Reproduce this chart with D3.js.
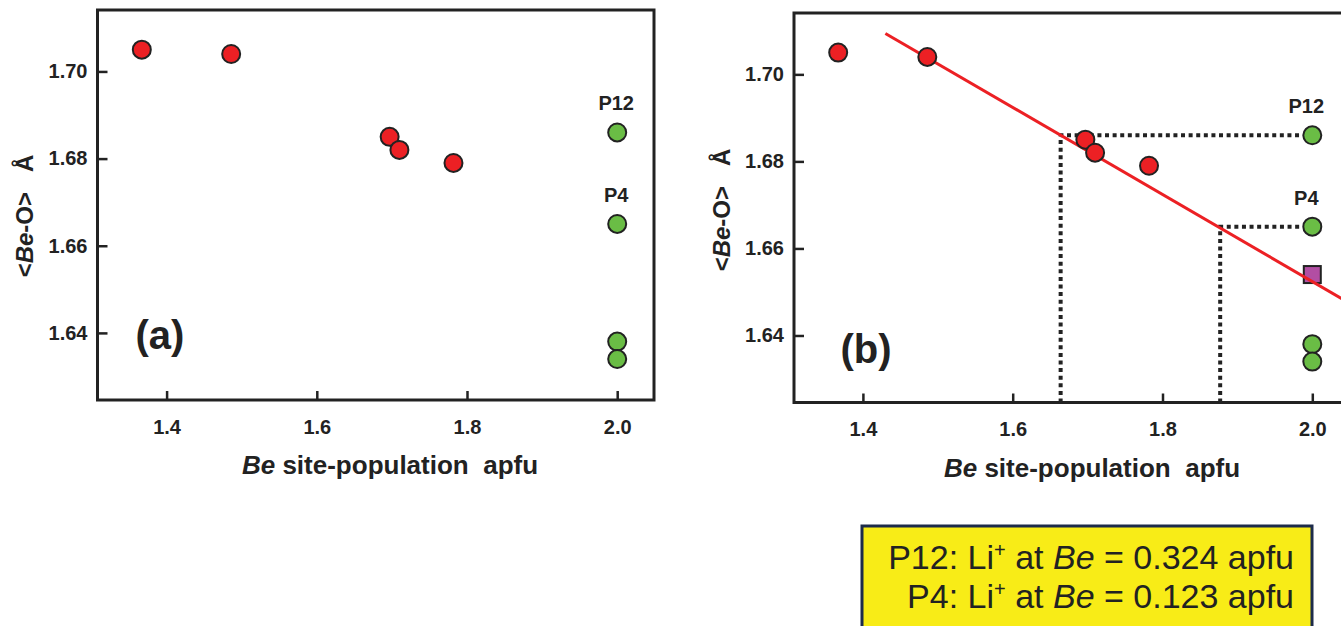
<!DOCTYPE html>
<html>
<head>
<meta charset="utf-8">
<script src="https://cdn.jsdelivr.net/npm/d3@7"></script>
<style>
  body { margin: 0; background: #fff; }
  svg { display: block; font-family: "Liberation Sans", Arial, sans-serif; }
  .tick text { font-weight: bold; font-size: 20px; fill: #222; }
  .tick line { stroke: #222; stroke-width: 2.5; }
</style>
</head>
<body>
<script>
// Li-free points (red) and Li-bearing points (green), <Be-O> vs Be apfu
var redX = [1.367, 1.486, 1.697, 1.710, 1.782];
var redY = [1.705, 1.704, 1.685, 1.682, 1.679];
var greenX = [2.0, 2.0, 2.0, 2.0];
var greenY = [1.686, 1.665, 1.638, 1.634];
var greenNames = ["P12", "P4", "", ""];
// extra square in panel (b)
var squareX = [2.0];
var squareY = [1.654];
// regression line (panel b), end points
var fitX = [1.430, 2.050];
var fitY = [1.7094, 1.6474];
// projection of P12 / P4 onto the line
var projX = [1.664, 1.877];
var projY = [1.686, 1.665];

var xTicks = [1.4, 1.6, 1.8, 2.0];
var yTicks = [1.64, 1.66, 1.68, 1.70];
var xDomain = [1.308, 2.049];
var yDomain = [1.6246, 1.7141];

var W = 1341, H = 626;
var svg = d3.select('body').append('svg')
  .attr('width', W)
  .attr('height', H);
svg.append('rect').attr('width', W).attr('height', H).attr('fill', '#fff');

var RED = '#ec2024', GREEN = '#6abd45', INK = '#222';

function panel(p){
  var x = d3.scaleLinear().domain(xDomain).range([p.left, p.right]);
  var y = d3.scaleLinear().domain(yDomain).range([p.bottom, p.top]);
  var g = svg.append('g');

  // axes, ticks pointing inward
  g.append('g')
    .attr('transform', 'translate(0,' + p.bottom + ')')
    .call(d3.axisBottom(x).tickValues(xTicks).tickFormat(d3.format('.1f'))
      .tickSizeInner(-9).tickSizeOuter(0).tickPadding(p.xPad))
    .call(function(a){ a.select('.domain').remove(); });
  g.append('g')
    .attr('transform', 'translate(' + p.left + ',0)')
    .call(d3.axisLeft(y).tickValues(yTicks).tickFormat(d3.format('.2f'))
      .tickSizeInner(-10).tickSizeOuter(0).tickPadding(10))
    .call(function(a){ a.select('.domain').remove(); });

  // frame
  g.append('rect')
    .attr('x', p.left).attr('y', p.top)
    .attr('width', p.right - p.left).attr('height', p.bottom - p.top)
    .attr('fill', 'none').attr('stroke', INK).attr('stroke-width', 3);

  // axis titles
  var xt = g.append('text')
    .attr('x', p.xTitleX).attr('y', p.xTitleY)
    .attr('text-anchor', 'middle')
    .attr('font-size', 26).attr('font-weight', 'bold').attr('fill', INK);
  xt.append('tspan').attr('font-style', 'italic').text('Be');
  xt.append('tspan').text(' site-population\u00a0\u00a0apfu');

  var yt = g.append('text')
    .attr('transform', 'translate(' + p.yTitleX + ',' + p.yTitleY + ') rotate(-90)')
    .attr('text-anchor', 'middle')
    .attr('font-size', 24).attr('font-weight', 'bold').attr('fill', INK);
  yt.append('tspan').text('<');
  yt.append('tspan').attr('font-style', 'italic').text('Be');
  yt.append('tspan').text('-O>\u00a0\u00a0\u00a0\u00c5');

  // panel letter
  g.append('text')
    .attr('x', p.letterX).attr('y', p.letterY)
    .attr('text-anchor', 'middle')
    .attr('font-size', 40).attr('font-weight', 'bold').attr('fill', INK)
    .text(p.letter);

  if (p.fit) {
    // dotted projections
    projX.forEach(function(px, i){
      var dots = 'M' + x(px) + ',' + p.bottom + 'V' + y(projY[i]) + 'H' + (x(2.0) - 11);
      g.append('path').attr('d', dots)
        .attr('fill', 'none').attr('stroke', INK)
        .attr('stroke-width', 4).attr('stroke-dasharray', '4,3.6');
    });
    g.selectAll('.sq').data(squareX).enter().append('rect')
      .attr('x', function(d){ return x(d) - 8.5; })
      .attr('y', function(d, i){ return y(squareY[i]) - 8.5; })
      .attr('width', 17).attr('height', 17)
      .attr('fill', '#b24ea3').attr('stroke', INK).attr('stroke-width', 2);
    g.append('line')
      .attr('x1', x(fitX[0])).attr('y1', y(fitY[0]))
      .attr('x2', x(fitX[1])).attr('y2', y(fitY[1]))
      .attr('stroke', RED).attr('stroke-width', 3);
  }

  g.selectAll('.red').data(redX).enter().append('circle')
    .attr('cx', function(d){ return x(d); })
    .attr('cy', function(d, i){ return y(redY[i]); })
    .attr('r', 9).attr('fill', RED).attr('stroke', INK).attr('stroke-width', 2);

  g.selectAll('.green').data(greenX).enter().append('circle')
    .attr('cx', function(d){ return x(d); })
    .attr('cy', function(d, i){ return y(greenY[i]); })
    .attr('r', 9).attr('fill', GREEN).attr('stroke', INK).attr('stroke-width', 2);

  g.selectAll('.gname').data(greenX).enter().append('text')
    .attr('x', function(d){ return x(d) - p.nameShift; })
    .attr('y', function(d, i){ return y(greenY[i]) - 22; })
    .attr('text-anchor', 'middle')
    .attr('font-size', 20).attr('font-weight', 'bold').attr('fill', INK)
    .text(function(d, i){ return greenNames[i]; });
}

panel({left: 97.5, right: 654, top: 10, bottom: 400, xPad: 20,
  xTitleX: 390, xTitleY: 474, yTitleX: 33, yTitleY: 216,
  letter: '(a)', letterX: 160, letterY: 349, nameShift: 1, fit: false});
panel({left: 794, right: 1349, top: 13, bottom: 402.5, xPad: 19,
  xTitleX: 1092, xTitleY: 477, yTitleX: 730, yTitleY: 210,
  letter: '(b)', letterX: 866, letterY: 363, nameShift: 6, fit: true});

// note box
var box = svg.append('g');
box.append('rect')
  .attr('x', 862).attr('y', 526).attr('width', 450).attr('height', 120)
  .attr('fill', '#f8ec17').attr('stroke', '#1d2b4a').attr('stroke-width', 3);
var notes = [
  {name: 'P12', li: '0.324'},
  {name: 'P4', li: '0.123'}
];
notes.forEach(function(n, i){
  var t = box.append('text')
    .attr('x', 1294).attr('y', 569 + i * 39)
    .attr('text-anchor', 'end')
    .attr('font-size', 34).attr('fill', '#222');
  t.append('tspan').text(n.name + ': Li');
  t.append('tspan').attr('font-size', 20).attr('dy', -12).text('+');
  t.append('tspan').attr('dy', 12).text(' at ');
  t.append('tspan').attr('font-style', 'italic').text('Be');
  t.append('tspan').text(' = ' + n.li + ' apfu');
});
</script>
</body>
</html>
